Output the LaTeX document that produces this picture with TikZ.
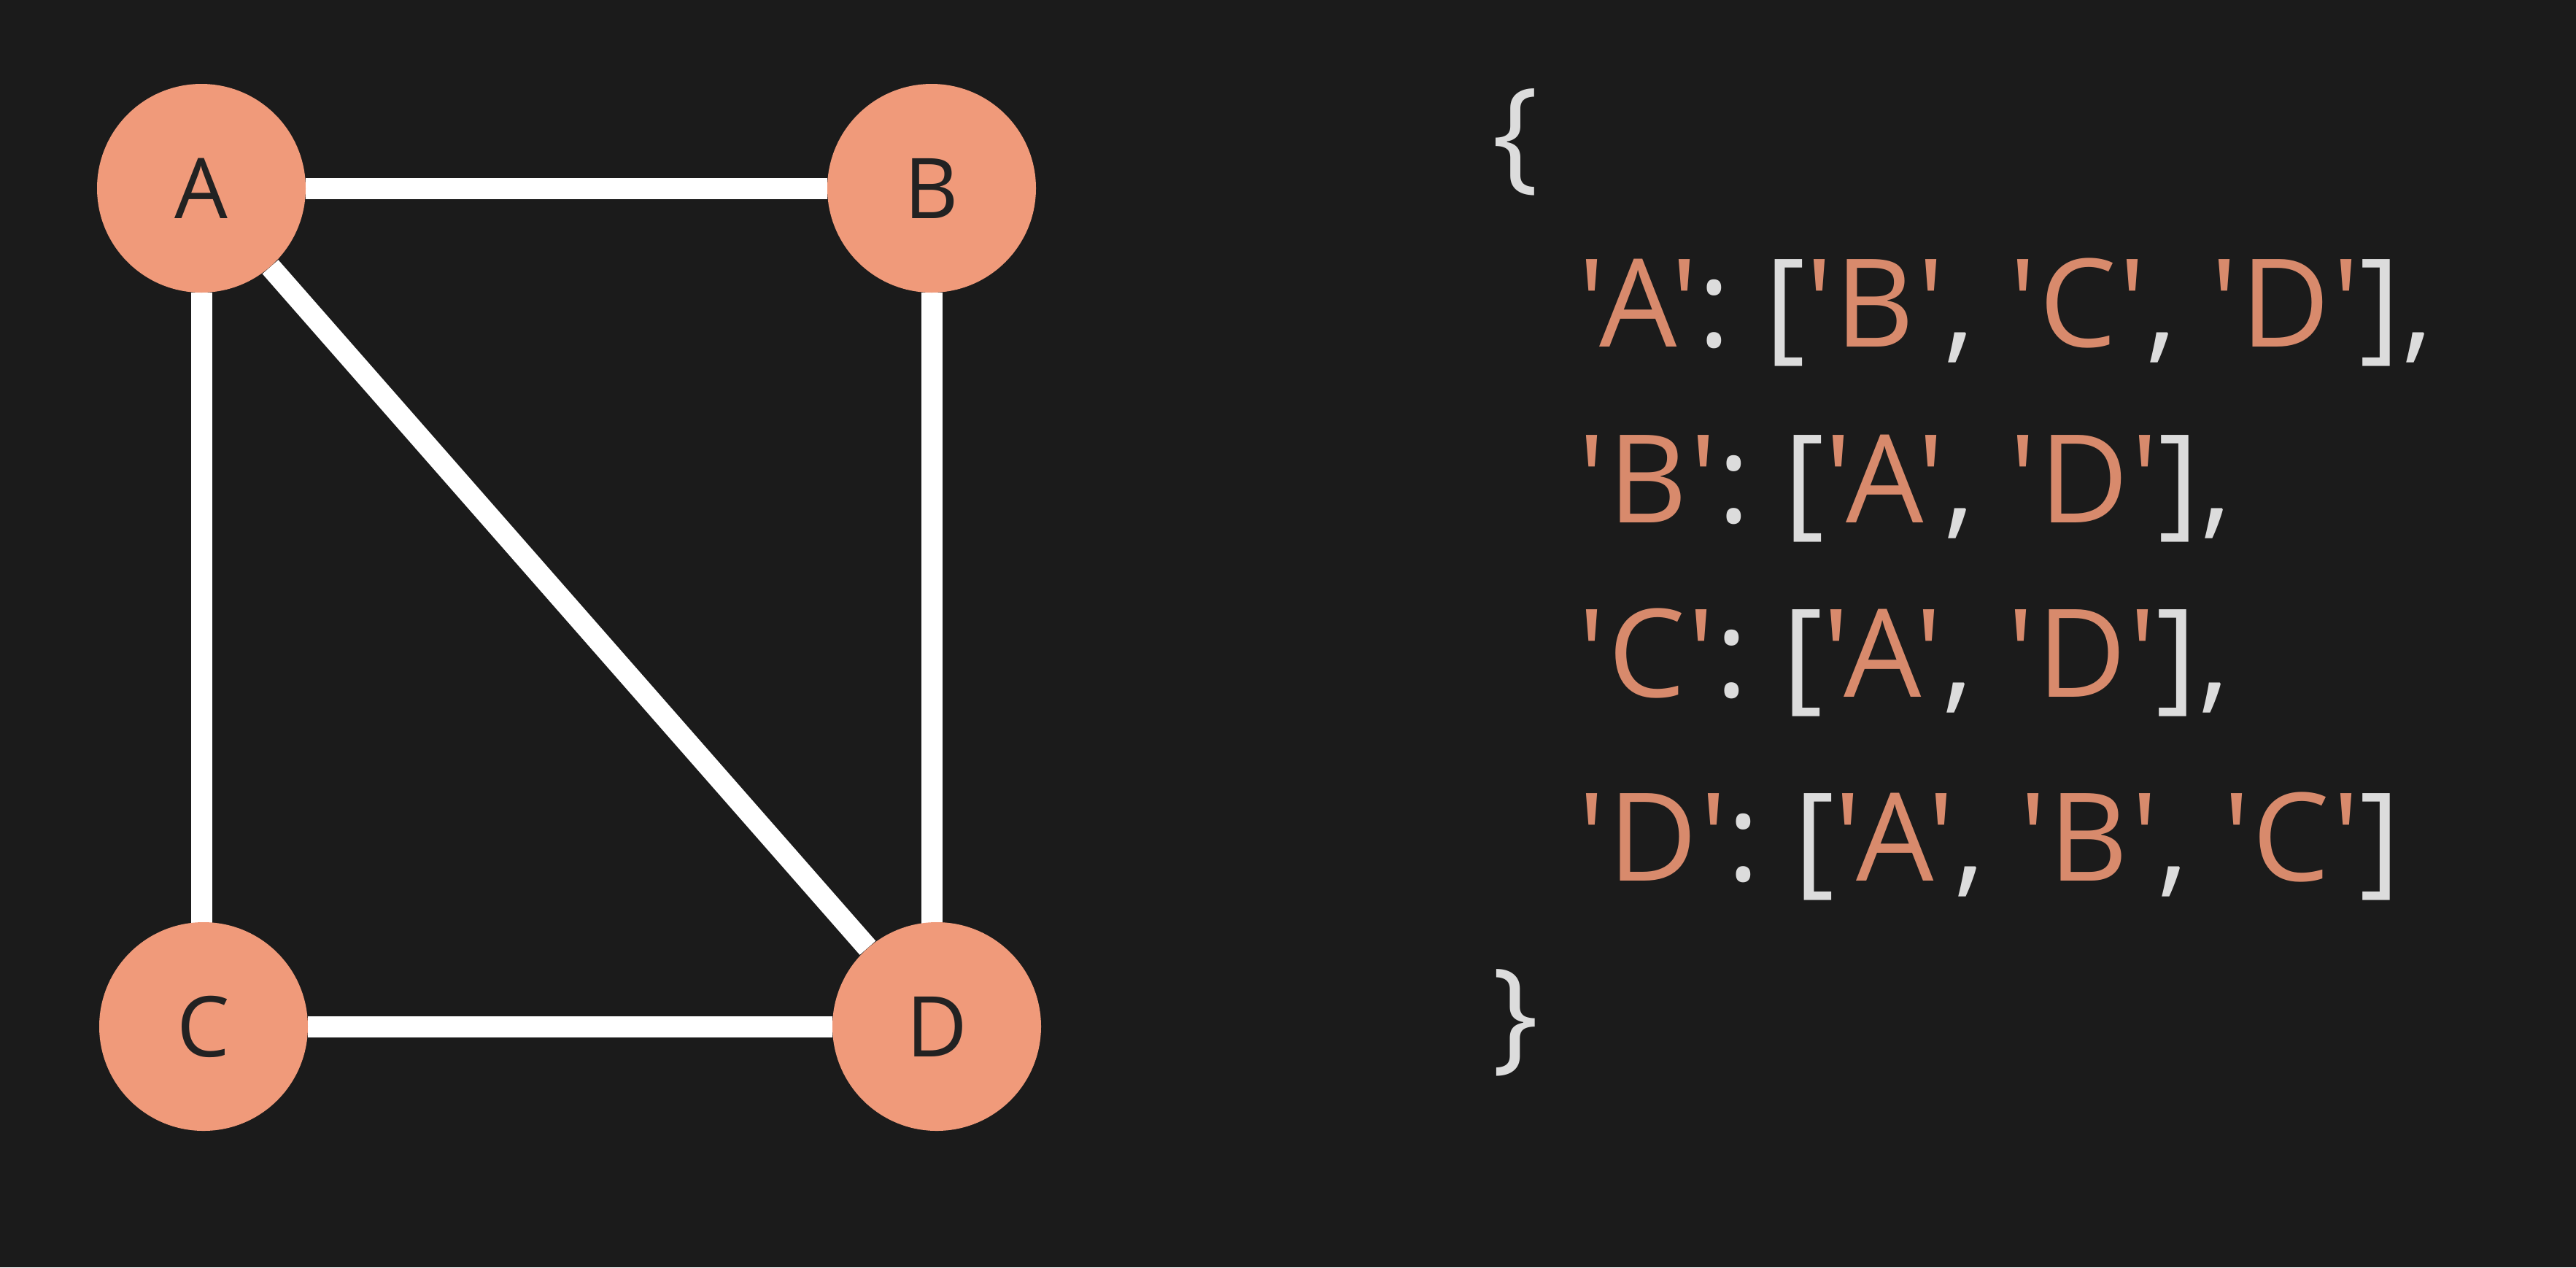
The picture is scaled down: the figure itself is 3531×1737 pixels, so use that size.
\documentclass[tikz,border=0pt]{standalone}
\usepackage{fontspec}
\setmainfont{Open Sans}
\newfontfamily\codefont{Open Sans}[Ligatures=TeXOff,LetterSpace=2.2]
\definecolor{bgc}{HTML}{1B1B1B}
\definecolor{nodefill}{HTML}{F09A7A}
\definecolor{sal}{HTML}{D88A6C}
\definecolor{grc}{HTML}{DCDCDC}
\definecolor{dark}{HTML}{222222}
\pgfdeclarelayer{bglayer}
\pgfdeclarelayer{edgelayer}
\pgfsetlayers{bglayer,edgelayer,main}
\newcommand{\Q}[1]{\textcolor{sal}{'#1'}}
\newcommand{\G}[1]{\textcolor{grc}{#1}}
\begin{document}
\begin{tikzpicture}[x=0.5pt,y=-0.5pt,
  vert/.style={circle,fill=nodefill,minimum size=143pt,inner sep=0pt,
    font=\fontsize{57.5}{60}\selectfont,text=dark},
  edge/.style={draw=white,line width=14.5pt},
  code/.style={anchor=base west,inner sep=0pt,font=\codefont\fontsize{84}{100}\selectfont}]
\begin{pgfonlayer}{bglayer}
\fill[bgc] (0,0) rectangle (3531,1737);
\end{pgfonlayer}
\useasboundingbox (0,0) rectangle (3531,1737);
\node[vert] (A) at (276,258) {A};
\node[vert] (B) at (1277,258) {B};
\node[vert] (C) at (279,1407) {C};
\node[vert] (D) at (1284,1407) {D};
\begin{pgfonlayer}{edgelayer}
\draw[edge] (A) -- (B);
\draw[edge] (A) -- (A |- C);
\draw[edge] (A) -- (D);
\draw[edge] (B) -- (B |- D);
\draw[edge] (C) -- (D);
\end{pgfonlayer}
\node[code] (open) at (2045,241) {\G{\{}};
\node[code] (rA) at (2163,475) {\Q{A}\G{: [}\Q{B}\G{, }\Q{C}\G{, }\Q{D}\G{],}};
\node[code] (rB) at (2163,716) {\Q{B}\G{: [}\Q{A}\G{, }\Q{D}\G{],}};
\node[code] (rC) at (2163,955) {\Q{C}\G{: [}\Q{A}\G{, }\Q{D}\G{],}};
\node[code] (rD) at (2163,1207) {\Q{D}\G{: [}\Q{A}\G{, }\Q{B}\G{, }\Q{C}\G{]}};
\node[code] (close) at (2045,1448) {\G{\}}};
\end{tikzpicture}
\end{document}
